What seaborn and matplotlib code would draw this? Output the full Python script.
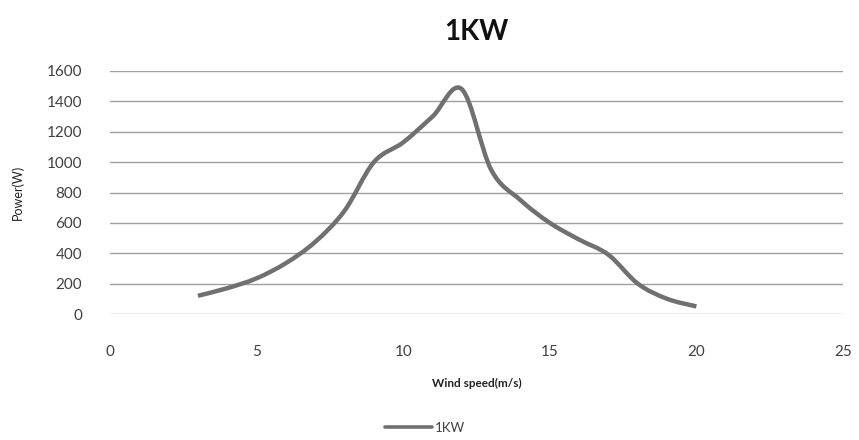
import matplotlib
matplotlib.use("Agg")
import matplotlib.pyplot as plt
from matplotlib.path import Path
from matplotlib.patches import PathPatch
import seaborn as sns
import pandas as pd

wind_speed = [3, 4, 5, 6, 7, 8, 9, 10, 11, 12, 13, 14, 15, 16, 17, 18, 19, 20]
power_w = [120, 170, 235, 335, 475, 680, 1000, 1130, 1300, 1480, 950, 750, 600, 490, 390, 200, 100, 50]
series_name = "1KW"
x_ticks = [0, 5, 10, 15, 20, 25]
y_ticks = [0, 200, 400, 600, 800, 1000, 1200, 1400, 1600]

df = pd.DataFrame({"Wind speed(m/s)": wind_speed, "Power(W)": power_w, "series": series_name})

sns.set_theme(style="white")
plt.rcParams["font.family"] = ["Lato", "DejaVu Sans"]

W, H = 859, 440
fig = plt.figure(figsize=(W / 100, H / 100), dpi=100)
ax = fig.add_axes([110 / W, 1 - 314 / H, (843 - 110) / W, (314 - 71) / H])

line_color = "#707070"
sns.lineplot(data=df, x="Wind speed(m/s)", y="Power(W)", hue="series",
             palette=[line_color], linewidth=3.2, ax=ax, legend=True)

# Render the seaborn line with Excel-like smoothing (Bezier through the data points)
ln = ax.lines[0]
xs = list(ln.get_xdata())
ys = list(ln.get_ydata())
n = len(xs)
verts = [(xs[0], ys[0])]
codes = [Path.MOVETO]
for i in range(n - 1):
    i0 = max(i - 1, 0)
    i3 = min(i + 2, n - 1)
    c1 = (xs[i] + (xs[i + 1] - xs[i0]) / 6, ys[i] + (ys[i + 1] - ys[i0]) / 6)
    c2 = (xs[i + 1] - (xs[i3] - xs[i]) / 6, ys[i + 1] - (ys[i3] - ys[i]) / 6)
    verts += [c1, c2, (xs[i + 1], ys[i + 1])]
    codes += [Path.CURVE4] * 3
ax.add_patch(PathPatch(Path(verts, codes), facecolor="none", edgecolor=line_color,
                       linewidth=3.2, capstyle="butt", joinstyle="round", zorder=ln.get_zorder()))
ln.set_visible(False)

ax.set_xlim(0, 25)
ax.set_ylim(0, 1600)
ax.set_xticks(x_ticks)
ax.set_yticks(y_ticks)
ax.yaxis.grid(True, color="#a0a0a0", linewidth=1.0)
ax.set_axisbelow(True)
for s in ax.spines.values():
    s.set_visible(False)
ax.tick_params(axis="x", length=0, pad=22, labelsize=11, labelcolor="#404040")
ax.tick_params(axis="y", length=0, pad=20, labelsize=11, labelcolor="#404040")

ax.set_xlabel("Wind speed(m/s)", fontsize=8.5, fontweight="bold", color="#222222", labelpad=14)
ax.set_ylabel("Power(W)", fontsize=9, color="#222222", labelpad=16)
ax.yaxis.set_label_coords(-86 / (843 - 110), 0.5)

fig.suptitle(series_name, x=(110 + 843) / 2 / W, y=1 - 19 / H, fontsize=20, fontweight="bold", color="#111111")

old = ax.get_legend()
handles = old.legend_handles
labels = [t.get_text() for t in old.get_texts()]
old.remove()
for h in handles:
    h.set_linewidth(2.6)
leg = ax.legend(handles, labels, loc="center", bbox_to_anchor=(425 / W, 1 - 428 / H),
                bbox_transform=fig.transFigure, frameon=False, handlelength=3.6,
                handletextpad=0.2, fontsize=9.5)
for t in leg.get_texts():
    t.set_color("#404040")

fig.savefig("out.png", dpi=100)
